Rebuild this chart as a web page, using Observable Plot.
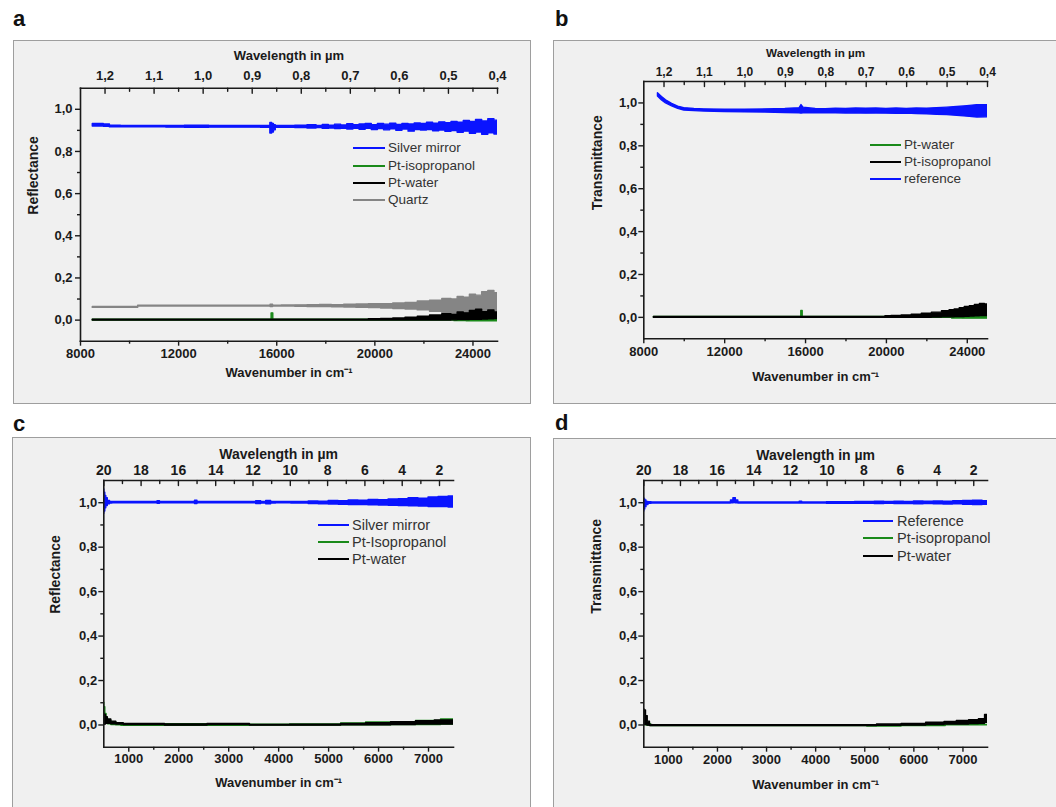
<!DOCTYPE html>
<html><head><meta charset="utf-8">
<script src="https://cdn.jsdelivr.net/npm/d3@7"></script>
<script src="https://cdn.jsdelivr.net/npm/@observablehq/plot@0.6"></script>
<style>
body{margin:0;background:#fff;width:1056px;height:807px;overflow:hidden;position:relative;font-family:"Liberation Sans",Arial,sans-serif;}
.box{position:absolute;background:#f0f0f0;border:1px solid #9e9e9e;box-sizing:border-box;}
.plotwrap{position:absolute;}
.letter{position:absolute;font:bold 22px/22px "Liberation Sans",Arial,sans-serif;color:#111;}
.legline{position:absolute;height:2px;}
.legtext{position:absolute;color:#333;white-space:nowrap;line-height:16px;}
</style>
</head><body>
<script>
// ---------- data (wavenumber in cm^-1, envelope of the noisy spectra) ----------
// Panel a – reflectance, VIS/NIR
const aSilverWn = [8500,8800,9100,9300,10000,11000,12000,12500,13000,13500,14000,15000,15700,15780,15850,15920,16000,16500,17000,17500,17750,18000,18250,18500,18750,19000,19250,19500,19750,20000,20250,20500,20750,21000,21250,21500,21750,22000,22250,22500,22750,23000,23250,23500,23750,24000,24250,24500,24750,25000];
const aSilverHi = [.930,.930,.928,.922,.921,.921,.921,.922,.922,.921,.921,.921,.921,.935,.930,.925,.921,.921,.922,.924,.921,.926,.922,.927,.923,.929,.924,.928,.930,.925,.931,.927,.932,.926,.931,.928,.933,.930,.936,.932,.938,.934,.940,.936,.945,.940,.950,.942,.953,.946];
const aSilverLo = [.918,.918,.917,.914,.914,.914,.913,.912,.912,.913,.913,.913,.912,.885,.890,.900,.912,.912,.911,.909,.911,.907,.909,.906,.908,.904,.908,.903,.907,.902,.906,.900,.905,.898,.904,.894,.902,.899,.901,.896,.899,.893,.897,.889,.894,.884,.890,.879,.886,.880];
const aQuartzWn = [8500,10300,10400,12000,14000,15700,15800,15900,16500,17000,17500,18000,18500,19000,19500,20000,20500,21000,21500,22000,22500,23000,23250,23500,23750,24000,24250,24500,24750,25000];
const aQuartzHi = [.062,.062,.068,.068,.068,.068,.073,.068,.069,.070,.071,.072,.071,.073,.074,.076,.075,.079,.082,.088,.092,.100,.098,.110,.106,.120,.116,.132,.138,.128];
const aQuartzLo = [.058,.058,.064,.064,.064,.064,.062,.064,.064,.063,.062,.062,.061,.060,.058,.057,.055,.053,.050,.046,.040,.034,.028,.022,.018,.012,.008,.004,.000,.000];
const aWaterWn = [8500,19500,20000,20500,21000,21500,22000,22500,23000,23250,23500,23750,24000,24250,24500,24750,25000];
const aWaterHi = [.002,.002,.004,.006,.008,.012,.016,.022,.028,.025,.036,.032,.044,.050,.038,.046,.036];
const aWaterLo = [-.002,-.002,-.002,-.002,-.002,-.002,-.002,-.002,-.002,-.001,0,0,.001,.002,.003,.004,.005];
const aIsoWn = [8500,15780,15800,15850,15870,23000,23500,24000,24500,25000];
const aIsoHi = [.002,.002,.032,.032,.002,.002,.002,.002,.002,.002];
const aIsoLo = [-.002,-.002,-.002,-.002,-.002,-.002,-.005,-.006,-.006,-.006];

// Panel b – transmittance, VIS/NIR
const bRefWn = [8700,8900,9100,9400,9700,10000,10500,11000,12000,13000,14000,15000,15700,15800,15900,16500,17000,17500,18000,18500,19000,19500,20000,20500,21000,21500,22000,22500,23000,23500,24000,24500,25000];
const bRefHi = [1.045,1.028,1.012,.996,.983,.976,.972,.970,.968,.969,.970,.972,.975,.990,.978,.972,.971,.973,.972,.974,.973,.974,.972,.974,.972,.974,.973,.976,.978,.981,.985,.990,.990];
const bRefLo = [1.030,1.012,.998,.984,.972,.965,.962,.960,.958,.956,.955,.953,.952,.950,.952,.953,.952,.952,.951,.952,.950,.951,.950,.949,.950,.948,.947,.945,.943,.940,.936,.932,.933];
const bIsoWn = [8500,19900,20000,20500,21000,21500,22000,22500,23000,23250,23500,23750,24000,24250,24500,24750,25000];
const bIsoHi = [.002,.002,.005,.007,.009,.012,.017,.022,.029,.033,.037,.043,.048,.052,.058,.062,.060];
const bIsoLo = [-.002,-.002,-.002,-.002,-.002,-.002,-.002,-.001,0,0,.001,.002,.003,.004,.005,.006,.006];
const bWaterWn = [8500,15780,15800,15850,15870,23000,23500,24000,24500,25000];
const bWaterHi = [.002,.002,.030,.030,.002,.002,.002,.002,.002,.002];
const bWaterLo = [-.002,-.002,-.002,-.002,-.002,-.002,-.005,-.006,-.006,-.006];

// Panel c – reflectance, IR
const cSilverWn = [500,520,540,560,600,650,700,1000,1550,1600,1650,2300,2350,2400,3500,3600,3700,3800,3900,4000,4500,4700,4900,5100,5300,5500,5700,5900,6100,6300,6500,6700,6900,7100,7300,7500];
const cSilverHi = [1.06,1.045,1.03,1.02,1.008,1.004,1.003,1.003,1.003,1.007,1.003,1.003,1.009,1.003,1.003,1.007,1.004,1.008,1.004,1.003,1.003,1.006,1.005,1.008,1.007,1.010,1.009,1.012,1.011,1.015,1.016,1.020,1.018,1.024,1.026,1.028];
const cSilverLo = [.95,.96,.975,.985,.993,.996,.997,.997,.997,.995,.997,.997,.994,.997,.997,.994,.996,.993,.996,.997,.996,.994,.993,.992,.991,.990,.989,.988,.987,.986,.985,.984,.983,.981,.980,.978];
const cIsoWn = [500,520,540,570,600,700,800,900,1000,3400,3450,5000,5500,6000,6500,7000,7500];
const cIsoHi = [.10,.08,.05,.03,.02,.012,.008,.004,.003,.003,.001,.002,.007,.011,.013,.018,.025];
const cIsoLo = [.01,.01,.008,.005,.003,0,-.002,-.004,-.004,-.004,-.003,-.003,-.002,-.002,0,0,.002];
const cWaterWn = [500,530,560,600,700,800,1000,1700,1750,3400,3450,5000,5500,6000,6500,7000,7250,7500];
const cWaterHi = [.05,.045,.035,.025,.015,.008,.005,.005,.002,.005,0,.001,.005,.008,.012,.017,.02,.02];
const cWaterLo = [0,.002,.005,.005,.003,.002,0,0,-.003,0,-.003,-.003,-.002,-.002,0,.002,.002,.002];

// Panel d – transmittance, IR
const dRefWn = [500,520,540,570,620,700,2250,2300,2350,2400,2450,3650,3700,3750,4700,4900,5100,5300,5500,5700,5900,6100,6300,6500,6700,6900,7100,7300,7500];
const dRefHi = [1.02,1.015,1.01,1.004,1.002,1.001,1.001,1.01,1.02,1.01,1.001,1.001,1.005,1.001,1.002,1.004,1.003,1.005,1.004,1.005,1.004,1.006,1.005,1.006,1.005,1.007,1.008,1.009,1.007];
const dRefLo = [.96,.97,.98,.99,.995,.996,.996,.997,.999,.997,.996,.996,.996,.996,.995,.995,.995,.994,.995,.994,.994,.993,.994,.993,.992,.993,.991,.99,.991];
const dWaterWn = [500,530,560,600,650,700,5000,5500,6000,6500,6750,7000,7250,7400,7500];
const dWaterHi = [.07,.065,.04,.015,0,-.001,-.001,.002,.005,.01,.014,.018,.022,.026,.045];
const dWaterLo = [0,0,0,-.003,-.005,-.005,-.005,-.004,-.003,0,.002,.002,.004,.005,.01];
const dIsoWn = [500,540,580,700,5000,5100,5700,5800,7500];
const dIsoHi = [.03,.02,.005,-.002,-.002,-.002,-.002,-.002,0];
const dIsoLo = [0,0,-.003,-.005,-.005,-.007,-.007,-.005,-.002];

// ---------- ticks ----------
const yMajor = [0, 0.2, 0.4, 0.6, 0.8, 1.0];
const yMinor = [0.1, 0.3, 0.5, 0.7, 0.9];
const visMajor = [8000, 12000, 16000, 20000, 24000];
const visMinor = [10000, 14000, 18000, 22000];
const irMajor = [1000, 2000, 3000, 4000, 5000, 6000, 7000];
const irMinor = [1500, 2500, 3500, 4500, 5500, 6500];
const visLambdaMajor = [1.2, 1.1, 1.0, 0.9, 0.8, 0.7, 0.6, 0.5, 0.4];
const visLambdaMinor = [1.15, 1.05, 0.95, 0.85, 0.75, 0.65, 0.55, 0.45];
const irLambdaMajor = [20, 18, 16, 14, 12, 10, 8, 6, 4, 2];
const irLambdaMinor = [19, 17, 15, 13, 11, 9, 7, 5, 3];

// secondary (wavelength) axis as drawn in the original: linear across the frame
const visToWn = l => 8000 + (1.25 - l) * 20000;
const visFromWn = w => 1.25 - (w - 8000) / 20000;
const irToWn = l => 500 + (20 - l) * (7000 / 18.75);
const irFromWn = w => 20 - (w - 500) / (7000 / 18.75);

const BLUE = "#0a14ff", GREEN = "#1a8a1a", BLACK = "#000000", GREY = "#858585", AX = "#1a1a1a";
const FONT = "'Liberation Sans', Arial, sans-serif";
const fmtY = d => d.toFixed(1).replace(".", ",");
const tickShape = {draw(context, l) { context.moveTo(0, 0); context.lineTo(0, -l); }};

function band(wn, lo, hi, color, curve) {
  const rows = wn.map((x, i) => ({x, lo: lo[i], hi: hi[i]}));
  return Plot.areaY(rows, {x: "x", y1: "lo", y2: "hi", curve: curve || "step", fill: color, stroke: color, strokeWidth: 1.4, clip: true});
}

function makePanel(p) {
  const marks = p.series.map(s => band(s.wn, s.lo, s.hi, s.color, s.curve));
  const axisStyle = {stroke: AX, strokeWidth: 1.4};
  marks.push(
    Plot.frame({anchor: "left", stroke: AX, strokeWidth: 1.6}),
    Plot.frame({anchor: "bottom", stroke: AX, strokeWidth: 1.6}),
    Plot.frame({anchor: "top", stroke: AX, strokeWidth: 1.6}),
    Plot.axisY({ticks: yMajor, tickSize: 5, tickPadding: p.yPad, tickFormat: fmtY, ...axisStyle, fill: AX, fontWeight: "bold", fontSize: p.tickFs, label: null}),
    Plot.axisY({ticks: yMinor, tickSize: 3, ...axisStyle, fill: "none", label: null}),
    Plot.axisX({anchor: "bottom", ticks: p.xMajor, tickSize: 5, tickPadding: p.xPad, tickFormat: d => String(d), ...axisStyle, fill: AX, fontWeight: "bold", fontSize: p.tickFs, label: null}),
    Plot.axisX({anchor: "bottom", ticks: p.xMinor, tickSize: 3, ...axisStyle, fill: "none", label: null}),
    // inward ticks of the wavelength axis
    Plot.vector(p.topMajor.map(p.toWn), {x: d => d, frameAnchor: "top", length: 5, rotate: 180, anchor: "start", shape: tickShape, ...axisStyle}),
    Plot.vector(p.topMinor.map(p.toWn), {x: d => d, frameAnchor: "top", length: 3, rotate: 180, anchor: "start", shape: tickShape, ...axisStyle}),
    Plot.axisX({anchor: "top", ticks: p.topMajor.map(p.toWn), tickSize: 0, tickPadding: p.topPad, tickFormat: w => p.topFmt(p.fromWn(w)), fill: AX, fontWeight: "bold", fontSize: p.topFs, label: null}),
    Plot.text([p.yLabel], {frameAnchor: "left", dx: p.yLabDx, rotate: -90, fontWeight: "bold", fontSize: 14, fill: AX}),
    Plot.text(["Wavenumber in cm\u207B\u00B9"], {frameAnchor: "bottom", dy: p.xLabDy, fontWeight: "bold", fontSize: 13, fill: AX}),
    Plot.text(["Wavelength in \u00B5m"], {frameAnchor: "top", dy: p.topLabDy, fontWeight: "bold", fontSize: p.topLabFs, fill: AX})
  );
  return Plot.plot({
    width: p.width, height: p.height,
    marginLeft: p.mL, marginRight: p.mR, marginTop: p.mT, marginBottom: p.mB,
    x: {domain: p.xDomain},
    y: {domain: [-0.1, 1.1]},
    style: {background: "transparent", fontFamily: FONT, color: AX, overflow: "visible"},
    marks
  });
}

function place(el, left, top) {
  const w = document.createElement("div");
  w.className = "plotwrap";
  w.style.left = left + "px"; w.style.top = top + "px";
  w.appendChild(el);
  document.body.appendChild(w);
}
function box(left, top, w, h) {
  const d = document.createElement("div");
  d.className = "box";
  Object.assign(d.style, {left: left + "px", top: top + "px", width: w + "px", height: h + "px"});
  document.body.appendChild(d);
}
function letter(t, left, top) {
  const d = document.createElement("div");
  d.className = "letter"; d.textContent = t;
  d.style.left = left + "px"; d.style.top = top + "px";
  document.body.appendChild(d);
}
function legend(x0, x1, tx, ys, items, fs) {
  items.forEach((it, i) => {
    const l = document.createElement("div");
    l.className = "legline";
    Object.assign(l.style, {left: x0 + "px", width: (x1 - x0) + "px", top: (ys[i] - 1) + "px", background: it.color});
    document.body.appendChild(l);
    const t = document.createElement("div");
    t.className = "legtext"; t.textContent = it.label;
    Object.assign(t.style, {left: tx + "px", top: (ys[i] - 8) + "px", fontSize: fs + "px"});
    document.body.appendChild(t);
  });
}

const fmtVis = l => l.toFixed(1).replace(".", ",");
const fmtIr = l => String(Math.round(l));

// boxes
box(13, 40, 518, 364);
box(553, 40, 510, 364);
box(12, 437, 519, 380);
box(553, 438, 510, 380);
letter("a", 13, 8); letter("b", 555, 8); letter("c", 13, 413); letter("d", 555, 412);

// panel a
place(makePanel({
  width: 518, height: 364, mL: 67, mR: 34, mT: 47.7, mB: 63.3,
  xDomain: [8000, 25000], xMajor: visMajor, xMinor: visMinor,
  topMajor: visLambdaMajor, topMinor: visLambdaMinor, toWn: visToWn, fromWn: visFromWn, topFmt: fmtVis,
  yLabel: "Reflectance", yPad: 3, xPad: 2.5, topPad: 8.5, tickFs: 13, topFs: 13, topLabFs: 13,
  yLabDx: -47, xLabDy: 36, topLabDy: -37.7,
  series: [
    {wn: aQuartzWn, lo: aQuartzLo, hi: aQuartzHi, color: GREY},
    {wn: aIsoWn, lo: aIsoLo, hi: aIsoHi, color: GREEN},
    {wn: aWaterWn, lo: aWaterLo, hi: aWaterHi, color: BLACK},
    {wn: aSilverWn, lo: aSilverLo, hi: aSilverHi, color: BLUE}
  ]
}), 13, 40);
legend(353, 385, 388, [148.3, 165.7, 183, 200.3], [
  {label: "Silver mirror", color: BLUE}, {label: "Pt-isopropanol", color: GREEN},
  {label: "Pt-water", color: BLACK}, {label: "Quartz", color: GREY}], 13.5);

// panel b
place(makePanel({
  width: 503, height: 364, mL: 90.3, mR: 69, mT: 41, mB: 65.7,
  xDomain: [8000, 25000], xMajor: visMajor, xMinor: visMinor,
  topMajor: visLambdaMajor, topMinor: visLambdaMinor, toWn: visToWn, fromWn: visFromWn, topFmt: fmtVis,
  yLabel: "Transmittance", yPad: 1.6, xPad: 3, topPad: 5.5, tickFs: 13, topFs: 12, topLabFs: 11.7,
  yLabDx: -46.6, xLabDy: 41.7, topLabDy: -33.3,
  series: [
    {wn: bWaterWn, lo: bWaterLo, hi: bWaterHi, color: GREEN},
    {wn: bIsoWn, lo: bIsoLo, hi: bIsoHi, color: BLACK},
    {wn: bRefWn, lo: bRefLo, hi: bRefHi, color: BLUE, curve: "linear"}
  ]
}), 553, 40);
legend(870, 900.7, 904, [145, 162.3, 179], [
  {label: "Pt-water", color: GREEN}, {label: "Pt-isopropanol", color: BLACK},
  {label: "reference", color: BLUE}], 13.5);

// panel c
place(makePanel({
  width: 519, height: 370, mL: 91.3, mR: 78, mT: 43, mB: 60.3,
  xDomain: [500, 7500], xMajor: irMajor, xMinor: irMinor,
  topMajor: irLambdaMajor, topMinor: irLambdaMinor, toWn: irToWn, fromWn: irFromWn, topFmt: fmtIr,
  yLabel: "Reflectance", yPad: 1.6, xPad: 1.5, topPad: 6, tickFs: 13, topFs: 14, topLabFs: 14,
  yLabDx: -48.3, xLabDy: 40, topLabDy: -31.7,
  series: [
    {wn: cIsoWn, lo: cIsoLo, hi: cIsoHi, color: GREEN},
    {wn: cWaterWn, lo: cWaterLo, hi: cWaterHi, color: BLACK},
    {wn: cSilverWn, lo: cSilverLo, hi: cSilverHi, color: BLUE}
  ]
}), 12, 437);
legend(318.3, 349.3, 352, [525, 541.7, 559.3], [
  {label: "Silver mirror", color: BLUE}, {label: "Pt-Isopropanol", color: GREEN},
  {label: "Pt-water", color: BLACK}], 14.5);

// panel d
place(makePanel({
  width: 503, height: 369, mL: 90.3, mR: 69, mT: 42, mB: 60.3,
  xDomain: [500, 7500], xMajor: irMajor, xMinor: irMinor,
  topMajor: irLambdaMajor, topMinor: irLambdaMinor, toWn: irToWn, fromWn: irFromWn, topFmt: fmtIr,
  yLabel: "Transmittance", yPad: 1.6, xPad: 3, topPad: 6, tickFs: 13, topFs: 14, topLabFs: 14,
  yLabDx: -47.6, xLabDy: 41.6, topLabDy: -30.7,
  series: [
    {wn: dIsoWn, lo: dIsoLo, hi: dIsoHi, color: GREEN},
    {wn: dWaterWn, lo: dWaterLo, hi: dWaterHi, color: BLACK},
    {wn: dRefWn, lo: dRefLo, hi: dRefHi, color: BLUE}
  ]
}), 553, 438);
legend(863.3, 893.3, 897, [521, 538.3, 555.7], [
  {label: "Reference", color: BLUE}, {label: "Pt-isopropanol", color: GREEN},
  {label: "Pt-water", color: BLACK}], 14.5);
</script>
</body></html>
